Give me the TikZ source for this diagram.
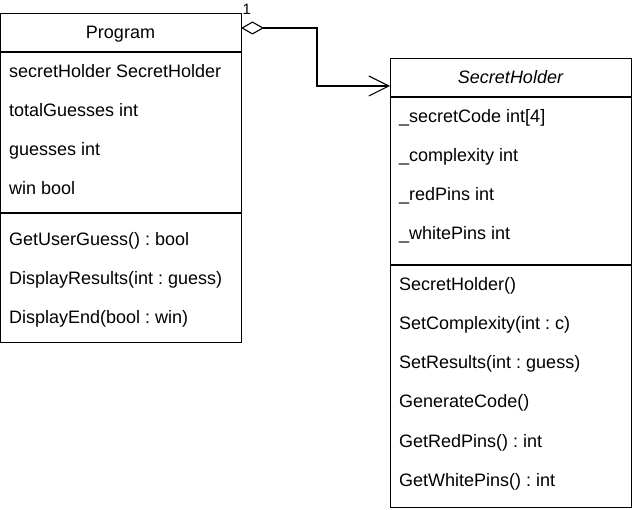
\documentclass[tikz,border=0pt]{standalone}
\usepackage{fontspec}
\setmainfont{Liberation Sans}
\usetikzlibrary{arrows.meta}
\frenchspacing
\begin{document}
\begin{tikzpicture}[x=1pt,y=-1pt,
  box/.style={draw, line width=1.1pt, inner sep=0pt, anchor=north west},
  txt/.style={anchor=base west, inner sep=0pt, font=\fontsize{18}{20}\selectfont},
  ttl/.style={anchor=base, inner sep=0pt, font=\fontsize{18}{20}\selectfont},
  sep/.style={line width=1.1pt},
  conn/.style={line width=1.1pt, {Diamond[open, length=23pt, width=13pt, line width=1.1pt]}-{Straight Barb[length=20pt, width=20pt, line width=1.1pt]}}
]
\useasboundingbox (0,0) rectangle (632,510);
% Program class
\node[box, minimum width=241pt, minimum height=329pt] (prog) at (0,13) {};
\draw[sep] (0,52) -- (241,52);
\draw[sep] (0,213) -- (241,213);
\node[ttl] (pt) at (120.5,39) {Program};
\node[txt] (p1) at (9,78) {secretHolder SecretHolder};
\node[txt] (p2) at (9,117) {totalGuesses int};
\node[txt] (p3) at (9,156) {guesses int};
\node[txt] (p4) at (9,195) {win bool};
\node[txt] (p5) at (9,246) {GetUserGuess() : bool};
\node[txt] (p6) at (9,285) {DisplayResults(int : guess)};
\node[txt] (p7) at (9,324) {DisplayEnd(bool : win)};
% SecretHolder class
\node[box, minimum width=241pt, minimum height=449pt] (sh) at (390,58) {};
\draw[sep] (390,97) -- (631,97);
\draw[sep] (390,265) -- (631,265);
\node[ttl, font=\fontsize{18}{20}\selectfont\itshape] (st) at (510.5,84) {SecretHolder};
\node[txt] (s1) at (399,123) {\_secretCode int[4]};
\node[txt] (s2) at (399,162) {\_complexity int};
\node[txt] (s3) at (399,201) {\_redPins int};
\node[txt] (s4) at (399,240) {\_whitePins int};
\node[txt] (s5) at (399,291) {SecretHolder()};
\node[txt] (s6) at (399,330) {SetComplexity(int : c)};
\node[txt] (s7) at (399,369) {SetResults(int : guess)};
\node[txt] (s8) at (399,408) {GenerateCode()};
\node[txt] (s9) at (399,447) {GetRedPins() : int};
\node[txt] (s10) at (399,486) {GetWhitePins() : int};
% connector
\coordinate (src) at (241,28);
\coordinate (bend) at (317,28);
\coordinate (dst) at (390,86);
\draw[conn] (src) -- (bend) |- (dst);
\node[anchor=base west, inner sep=0pt, font=\fontsize{15}{17}\selectfont] (mult) at (242.5,15) {1};
\end{tikzpicture}
\end{document}
